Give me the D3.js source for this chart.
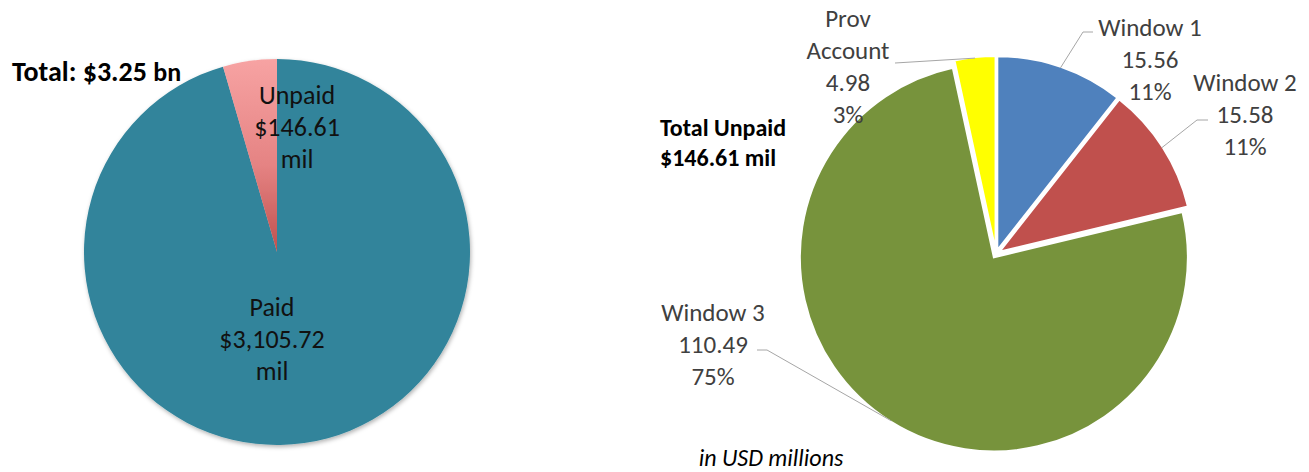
<!DOCTYPE html>
<html>
<head>
  <meta charset="utf-8">
  <title></title>
  <style>
    body { margin: 0; background: #fff; }
    svg { display: block; font-family: Carlito, Lato, "Noto Sans", sans-serif; }
  </style>
</head>
<body>
  <svg width="1309" height="472"></svg>

  <script src="https://cdn.jsdelivr.net/npm/d3@7"></script>
  <script>

  // left pie: paid vs unpaid (USD millions)
  var totalCats = ["Paid", "Unpaid"];
  var totalVals = [3105.72, 146.61];
  var totalLabels = ["$3,105.72", "$146.61"];

  // right pie: unpaid breakdown (USD millions)
  var unpaidCats = ["Window 1", "Window 2", "Window 3", "Prov Account"];
  var unpaidVals = [15.56, 15.58, 110.49, 4.98];
  var unpaidPct = ["11%", "11%", "75%", "3%"];

  var svg = d3.select("svg");
  var defs = svg.append("defs");

  var grad = defs.append("linearGradient")
      .attr("id", "unpaidGrad")
      .attr("x1", 0).attr("y1", 0).attr("x2", 0).attr("y2", 1);
  grad.append("stop").attr("offset", "0%").attr("stop-color", "#f7a3a3");
  grad.append("stop").attr("offset", "55%").attr("stop-color", "#e58383");
  grad.append("stop").attr("offset", "100%").attr("stop-color", "#c0504d");

  var shadow = defs.append("filter").attr("id", "shadow")
      .attr("x", "-10%").attr("y", "-10%").attr("width", "130%").attr("height", "130%");
  shadow.append("feDropShadow")
      .attr("dx", 1).attr("dy", 2).attr("stdDeviation", 2)
      .attr("flood-color", "#000").attr("flood-opacity", 0.3);

  // ---------- left pie ----------
  var left = { cx: 277, cy: 252, r: 193 };

  var pieL = d3.pie().sort(null).value(function(d) { return d; });
  var arcL = d3.arc().innerRadius(0).outerRadius(left.r);
  var colorL = d3.scaleOrdinal().domain(totalCats).range(["#31849b", "url(#unpaidGrad)"]);

  var gL = svg.append("g")
      .attr("transform", "translate(" + left.cx + "," + left.cy + ")");

  gL.append("g").attr("filter", "url(#shadow)")
    .selectAll("path")
    .data(pieL(totalVals))
    .enter().append("path")
      .attr("d", arcL)
      .attr("fill", function(d, i) { return colorL(totalCats[i]); });

  // label offsets from the pie centre (layout only)
  var leftLabelPos = [[-5, 55], [20, -157]];

  var lblL = gL.selectAll("text.lbl")
      .data(totalCats)
      .enter().append("text")
      .attr("class", "lbl")
      .attr("text-anchor", "middle")
      .attr("fill", "#111")
      .style("font-size", "26px");

  lblL.each(function(c, i) {
    var t = d3.select(this);
    var lines = [c, totalLabels[i], "mil"];
    lines.forEach(function(s, k) {
      t.append("tspan")
        .attr("x", leftLabelPos[i][0])
        .attr("y", leftLabelPos[i][1] + k * 32 + 9)
        .text(s);
    });
  });

  var totalBn = d3.sum(totalVals) / 1000;
  var tt = svg.append("text")
      .attr("x", 12).attr("y", 81)
      .attr("fill", "#000")
      .attr("font-weight", "bold")
      .style("font-size", "28px");
  tt.append("tspan").text("Total: $" + d3.format(".2f")(totalBn) + " ");
  tt.append("tspan").style("font-size", "26px").text("bn");

  // ---------- right pie ----------
  var right = { cx: 996, cy: 254, r: 194, explode: 4 };

  var pieR = d3.pie().sort(null).value(function(d) { return d; });
  var arcR = d3.arc().innerRadius(0).outerRadius(right.r);
  var colorR = d3.scaleOrdinal().domain(unpaidCats)
      .range(["#4f81bd", "#c0504d", "#77933c", "#ffff00"]);

  var gR = svg.append("g")
      .attr("transform", "translate(" + right.cx + "," + right.cy + ")");

  var slices = pieR(unpaidVals);

  function offset(d) {
    var a = (d.startAngle + d.endAngle) / 2;
    return [Math.sin(a) * right.explode, -Math.cos(a) * right.explode];
  }

  gR.selectAll("path")
    .data(slices)
    .enter().append("path")
      .attr("d", arcR)
      .attr("transform", function(d) { var o = offset(d); return "translate(" + o[0] + "," + o[1] + ")"; })
      .attr("fill", function(d, i) { return colorR(unpaidCats[i]); })
      .attr("stroke", "#fff")
      .attr("stroke-width", 2);

  // label anchors and leader elbows relative to pie centre (layout only)
  var rightLabels = [
    { pos: [154, -227], elbow: [[97, -222], [87, -222]], lines: ["Window 1"] },
    { pos: [249, -172], elbow: [[212, -134], [201, -134]], lines: ["Window 2"] },
    { pos: [-283, 58], elbow: [[-239, 96], [-229, 96]], lines: ["Window 3"] },
    { pos: [-148, -236], elbow: [[-101, -191], [-101, -191]], lines: ["Prov", "Account"] }
  ];

  var lineGen = d3.line();

  slices.forEach(function(d, i) {
    var L = rightLabels[i];
    var a = (d.startAngle + d.endAngle) / 2;
    var o = offset(d);
    var tip = [o[0] + Math.sin(a) * (right.r - 1), o[1] - Math.cos(a) * (right.r - 1)];
    gR.append("path")
      .attr("d", lineGen([L.elbow[0], L.elbow[1], tip]))
      .attr("fill", "none")
      .attr("stroke", "#a6a6a6")
      .attr("stroke-width", 1);

    var lines = L.lines.concat([d3.format(".2f")(unpaidVals[i]), unpaidPct[i]]);
    var t = gR.append("text")
        .attr("text-anchor", "middle")
        .attr("fill", "#404040")
        .style("font-size", "25px");
    lines.forEach(function(s, k) {
      t.append("tspan")
        .attr("x", L.pos[0])
        .attr("y", L.pos[1] + k * 32 + 9)
        .text(s);
    });
  });

  var tu = svg.append("text")
      .attr("x", 660).attr("y", 136)
      .attr("fill", "#000")
      .attr("font-weight", "bold")
      .style("font-size", "24px");
  tu.append("tspan").attr("x", 660).text("Total Unpaid");
  tu.append("tspan").attr("x", 660).attr("dy", 30)
    .text("$" + d3.format(".2f")(d3.sum(unpaidVals)) + " mil");

  svg.append("text")
      .attr("x", 771).attr("y", 466)
      .attr("text-anchor", "middle")
      .attr("font-style", "italic")
      .attr("fill", "#000")
      .style("font-size", "24px")
      .text("in USD millions");

  </script>
</body>
</html>
